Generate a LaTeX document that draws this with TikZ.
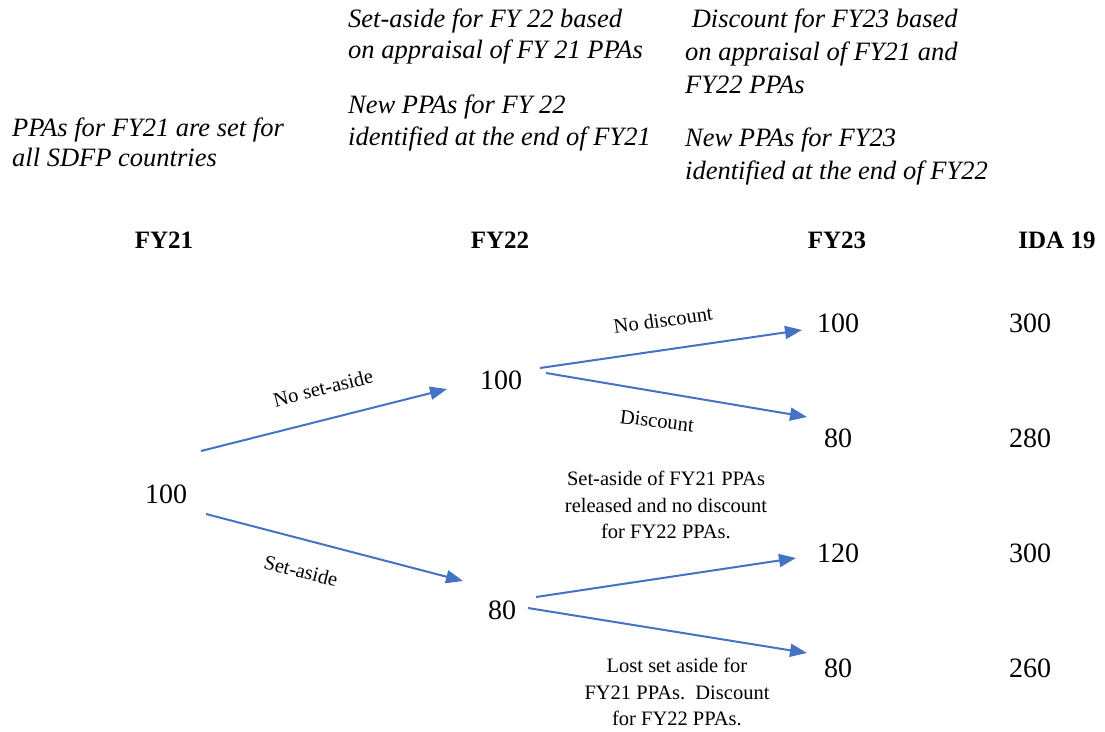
\documentclass[tikz,border=0pt]{standalone}
\usepackage{fontspec}
\setmainfont{Liberation Serif}[ItalicFont={Liberation Serif Italic},BoldFont={Liberation Serif Bold}]
\usetikzlibrary{arrows.meta}
\definecolor{arrowblue}{HTML}{4472C4}
\tikzset{
  note/.style={font=\fontsize{26.5}{31}\selectfont\itshape, align=left, inner sep=0pt, anchor=base west},
  head/.style={font=\fontsize{25}{30}\selectfont\bfseries, inner sep=0pt, anchor=base},
  val/.style={font=\fontsize{28}{32}\selectfont, inner sep=0pt},
  branch/.style={font=\fontsize{20.5}{24}\selectfont, inner sep=0pt},
  expl/.style={font=\fontsize{20.5}{26.5}\selectfont, align=center, inner sep=0pt},
  flow/.style={draw=arrowblue, line width=2pt, -{Triangle[length=17pt,width=13pt]}},
}
\begin{document}
\begin{tikzpicture}[x=1pt,y=-1pt]
\useasboundingbox (0,0) rectangle (1105,731);

% explanatory notes above the timeline (anchored at the baseline of the last line)
\node[note, font=\fontsize{26.5}{30}\selectfont\itshape] (n21) at (12,166) {PPAs for FY21 are set for\\all SDFP countries};
\node[note] (n22a) at (348,58) {Set-aside for FY 22 based\\on appraisal of FY 21 PPAs};
\node[note, font=\fontsize{26.5}{32}\selectfont\itshape] (n22b) at (348,145) {New PPAs for FY 22\\identified at the end of FY21};
\node[note, font=\fontsize{26.5}{33}\selectfont\itshape] (n23a) at (685,93) {\ Discount for FY23 based\\on appraisal of FY21 and\\FY22 PPAs};
\node[note, font=\fontsize{26.5}{33}\selectfont\itshape] (n23b) at (685,179) {New PPAs for FY23\\identified at the end of FY22};

% column headers
\node[head] (h21) at (164,248) {FY21};
\node[head] (h22) at (500,248) {FY22};
\node[head] (h23) at (837,248) {FY23};
\node[head] (hida) at (1057,248) {IDA 19};

% amounts
\node[val] (v0) at (166,494) {100};
\node[val] (v1) at (501,380) {100};
\node[val] (v2) at (502,610) {80};
\node[val] (v11) at (838,323) {100};
\node[val] (v12) at (838,438) {80};
\node[val] (v21) at (838,553) {120};
\node[val] (v22) at (838,668) {80};
\node[val] (t11) at (1030,323) {300};
\node[val] (t12) at (1030,438) {280};
\node[val] (t21) at (1030,553) {300};
\node[val] (t22) at (1030,668) {260};

% arrow end points
\coordinate (a1s) at (201,451); \coordinate (a1e) at (447,389);
\coordinate (a2s) at (206,514); \coordinate (a2e) at (463,581);
\coordinate (a3s) at (540,368); \coordinate (a3e) at (802,330);
\coordinate (a4s) at (546,373); \coordinate (a4e) at (807,417);
\coordinate (a5s) at (536,597); \coordinate (a5e) at (796,558);
\coordinate (a6s) at (528,608); \coordinate (a6e) at (807,653);

\draw[flow] (a1s) -- (a1e);
\draw[flow] (a2s) -- (a2e);
\draw[flow] (a3s) -- (a3e);
\draw[flow] (a4s) -- (a4e);
\draw[flow] (a5s) -- (a5e);
\draw[flow] (a6s) -- (a6e);

% branch labels
\node[branch, rotate=14] (l1) at (323,388) {No set-aside};
\node[branch, rotate=-14] (l2) at (301,571) {Set-aside};
\node[branch, rotate=8] (l3) at (663,320) {No discount};
\node[branch, rotate=-7] (l4) at (657,421) {Discount};

\node[expl] (e1) at (666,505) {Set-aside of FY21 PPAs\\released and no discount\\for FY22 PPAs.};
\node[expl] (e2) at (677,692) {Lost set aside for\\FY21 PPAs.\ \ Discount\\for FY22 PPAs.};
\end{tikzpicture}
\end{document}
